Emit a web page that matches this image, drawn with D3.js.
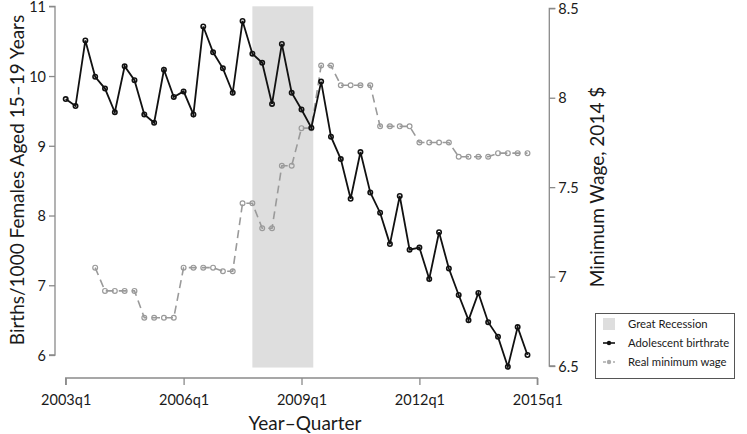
<!DOCTYPE html>
<html><head><meta charset="utf-8">
<script src="https://cdn.jsdelivr.net/npm/d3@7"></script>
<style>body{margin:0;background:#fff}svg{display:block}text{font-family:Lato,"Open Sans",sans-serif}</style>
</head><body><svg id="c" width="747" height="434"></svg>
<script>
// quarter index 0 = 2003q1
const xTickLabels = ["2003q1","2006q1","2009q1","2012q1","2015q1"];
const xTickIdx = [0,12,24,36,48];
const birthStart = 0;
const birthrate = [9.67,9.57,10.51,9.99,9.82,9.48,10.14,9.94,9.45,9.33,10.09,9.70,9.78,9.45,10.71,10.34,10.11,9.76,10.79,10.32,10.19,9.60,10.46,9.76,9.52,9.26,9.92,9.13,8.81,8.24,8.91,8.33,8.04,7.59,8.28,7.51,7.54,7.09,7.76,7.24,6.86,6.50,6.89,6.47,6.26,5.83,6.40,6.00];
const wageStart = 3;
const minWage = [7.05,6.92,6.92,6.92,6.92,6.77,6.77,6.77,6.77,7.05,7.05,7.05,7.05,7.03,7.03,7.41,7.41,7.27,7.27,7.62,7.62,7.83,7.83,8.18,8.18,8.07,8.07,8.07,8.07,7.84,7.84,7.84,7.84,7.75,7.75,7.75,7.75,7.67,7.67,7.67,7.67,7.69,7.69,7.69,7.69];
const leftTicks = [6,7,8,9,10,11];
const rightTicks = [6.5,7,7.5,8,8.5];
const recession = [19,25.2]; // 2007q4 .. 2009q2
const legendLabels = ["Great Recession","Adolescent birthrate","Real minimum wage"];

const svg = d3.select("#c");
const x = d3.scaleLinear().domain([0,48]).range([65.7,537.3]);
const yL = d3.scaleLinear().domain([6,11]).range([355,6.3]);
const yR = d3.scaleLinear().domain([6.5,8.5]).range([366,8.3]);
const axisCol = "#8a8a8a";

// recession band
svg.append("rect").attr("x",x(recession[0])).attr("width",x(recession[1])-x(recession[0]))
  .attr("y",yL(11)).attr("height",yL(5.82)-yL(11)).attr("fill","#dedede");

// axes
const gL = svg.append("g").attr("transform","translate(55,0)").call(d3.axisLeft(yL).tickValues(leftTicks).tickSize(6).tickPadding(3).tickFormat(d3.format("d")));
const gR = svg.append("g").attr("transform","translate(549.3,0)").call(d3.axisRight(yR).tickValues(rightTicks).tickSize(6).tickPadding(3).tickFormat(d=>String(d)));
const gX = svg.append("g").attr("transform","translate(0,378)").call(d3.axisBottom(x).tickValues(xTickIdx).tickSize(7).tickPadding(10).tickFormat((d,i)=>xTickLabels[i]));
[gL,gR,gX].forEach(g=>{
  g.select(".domain").attr("stroke",axisCol).attr("stroke-width",1.3);
  g.selectAll(".tick line").attr("stroke",axisCol).attr("stroke-width",1.3);
  g.selectAll(".tick text").attr("fill","#1a1a1a").style("font-size","14.5px").style("font-family","Lato,'Open Sans',sans-serif");
});
gL.selectAll(".tick text").attr("dy","0.36em");
gR.selectAll(".tick text").attr("dy","0.36em");
gL.select(".domain").attr("d",`M-6,${yL(6)}H0V${yL(11)}H-6`);
gR.select(".domain").attr("d",`M6,${yR(8.5)}H0V${yR(6.5)}H6`);
gX.select(".domain").attr("d",`M${x(0)},7V0H${x(48)}V7`);

// wage line
const wageData = minWage.map((v,i)=>({q:wageStart+i,v}));
svg.append("path").datum(wageData).attr("fill","none").attr("stroke","#9a9a9a").attr("stroke-width",1.6)
  .attr("stroke-dasharray","8,5")
  .attr("d",d3.line().x(d=>x(d.q)).y(d=>yR(d.v)));
svg.append("g").selectAll("circle").data(wageData).join("circle")
  .attr("cx",d=>x(d.q)).attr("cy",d=>yR(d.v)).attr("r",2.4)
  .attr("fill","none").attr("stroke","#9a9a9a").attr("stroke-width",1.2);

// birth line
const birthData = birthrate.map((v,i)=>({q:birthStart+i,v}));
svg.append("path").datum(birthData).attr("fill","none").attr("stroke","#111").attr("stroke-width",1.8)
  .attr("d",d3.line().x(d=>x(d.q)).y(d=>yL(d.v)));
svg.append("g").selectAll("circle").data(birthData).join("circle")
  .attr("cx",d=>x(d.q)).attr("cy",d=>yL(d.v)).attr("r",2.2)
  .attr("fill","none").attr("stroke","#111").attr("stroke-width",1.6);

// titles
svg.append("text").attr("x",305).attr("y",430).attr("text-anchor","middle").style("font-size","19px").attr("fill","#1a1a1a").text("Year\u2013Quarter");
svg.append("text").attr("transform","translate(24,180) rotate(-90)").attr("text-anchor","middle").style("font-size","19px").attr("fill","#1a1a1a").text("Births/1000 Females Aged 15\u201319 Years");
svg.append("text").attr("transform","translate(604,187) rotate(-90)").attr("text-anchor","middle").style("font-size","19px").attr("fill","#1a1a1a").text("Minimum Wage, 2014 $");

// legend
const lg = svg.append("g");
lg.append("rect").attr("x",595.5).attr("y",313.5).attr("width",139).attr("height",65).attr("fill","#fff").attr("stroke","#555").attr("stroke-width",1);
const ly = [324,343,362];
lg.append("rect").attr("x",603).attr("y",ly[0]-6).attr("width",12).attr("height",12).attr("fill","#dedede");
lg.append("line").attr("x1",603).attr("x2",615).attr("y1",ly[1]).attr("y2",ly[1]).attr("stroke","#111").attr("stroke-width",1.6);
lg.append("circle").attr("cx",609).attr("cy",ly[1]).attr("r",2.2).attr("fill","#111");
lg.append("line").attr("x1",603).attr("x2",615).attr("y1",ly[2]).attr("y2",ly[2]).attr("stroke","#aaa").attr("stroke-width",1.6).attr("stroke-dasharray","3,2");
lg.append("circle").attr("cx",609).attr("cy",ly[2]).attr("r",2.2).attr("fill","#aaa");
lg.selectAll("text.l").data(legendLabels).join("text").attr("class","l")
  .attr("x",628).attr("y",(d,i)=>ly[i]).attr("dy","0.35em").style("font-size","11.3px").attr("fill","#1a1a1a").text(d=>d);
</script></body></html>
